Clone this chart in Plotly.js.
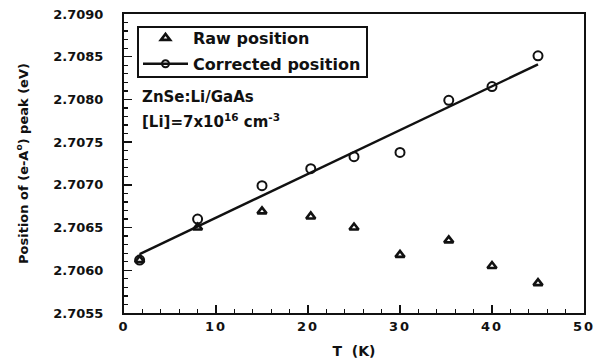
<!DOCTYPE html>
<html>
<head>
<meta charset="utf-8">
<script src="https://cdn.plot.ly/plotly-3.0.1.min.js"></script>
<style>
  html, body { margin: 0; padding: 0; background: #fff; }
  #chart { width: 599px; height: 362px; }
  /* slightly looser tracking for the x tick numbers */
  #chart .xtick text { letter-spacing: 2px; }
</style>
</head>
<body>
<div id="chart"></div>
<script>
// Temperature (K)
var temperature = [1.7, 8, 15, 20.3, 25, 30, 35.3, 40, 45];
// Peak position before correction (eV)
var rawPosition = [2.70612, 2.70650, 2.70669, 2.70663, 2.70650, 2.70618, 2.70635, 2.70605, 2.70585];
// Peak position after correction (eV)
var correctedPosition = [2.70612, 2.70660, 2.70699, 2.70719, 2.70733, 2.70738, 2.70799, 2.70815, 2.70851];
// Linear fit through the corrected positions (end points)
var fitT = [1.7, 45];
var fitE = [2.70619, 2.70841];

var FONT = 'DejaVu Sans, Liberation Sans, Arial, sans-serif';
var INK = '#111';

// plot-area geometry (px) used to place the legend frame in paper coordinates
var PLOT_L = 124, PLOT_T = 14, PLOT_W = 460, PLOT_H = 299;
function px2paperX(px) { return (px - PLOT_L) / PLOT_W; }
function px2paperY(py) { return (PLOT_T + PLOT_H - py) / PLOT_H; }

var traces = [
  {
    x: temperature, y: rawPosition, mode: 'markers', name: 'Raw position',
    legendgroup: 'raw',
    marker: { symbol: 'triangle-up-open', size: 8, color: INK, line: { width: 2.6, color: INK } },
    showlegend: true
  },
  {
    x: fitT, y: fitE, mode: 'lines', name: 'fit',
    line: { color: INK, width: 2.4 }, showlegend: false
  },
  {
    x: temperature, y: correctedPosition, mode: 'markers', name: 'Corrected position',
    marker: { symbol: 'circle-open', size: 9, color: INK, line: { width: 2, color: INK } },
    showlegend: false
  },
  {
    // legend entry: fit line with corrected-position marker
    x: [null], y: [null], mode: 'lines+markers', name: 'Corrected position',
    legendgroup: 'corr',
    line: { color: INK, width: 2.4 },
    marker: { symbol: 'circle-open', size: 7, color: INK, line: { width: 2, color: INK } },
    showlegend: true
  }
];

var layout = {
  width: 599, height: 362,
  margin: { l: PLOT_L, r: 599 - PLOT_L - PLOT_W, t: PLOT_T, b: 362 - PLOT_T - PLOT_H },
  paper_bgcolor: '#fff', plot_bgcolor: '#fff',
  font: { family: FONT, color: INK, size: 13, weight: 'bold' },
  showlegend: true,
  legend: {
    x: px2paperX(138), y: px2paperY(21), xanchor: 'left', yanchor: 'top',
    borderwidth: 0, bgcolor: 'rgba(0,0,0,0)',
    itemwidth: 45, tracegroupgap: 2, traceorder: 'grouped',
    font: { family: FONT, size: 16, color: INK, weight: 'bold' }
  },
  shapes: [
    {
      // legend frame
      type: 'rect', xref: 'paper', yref: 'paper', layer: 'below',
      x0: px2paperX(138), x1: px2paperX(367), y0: px2paperY(77), y1: px2paperY(27),
      line: { color: INK, width: 2 }, fillcolor: '#fff'
    }
  ],
  xaxis: {
    range: [0, 50], dtick: 10, tick0: 0,
    ticks: 'inside', ticklen: 8, tickwidth: 1.5, tickcolor: INK,
    minor: { dtick: 2, ticks: 'inside', ticklen: 4, tickwidth: 1.3, tickcolor: INK },
    showline: true, linecolor: INK, linewidth: 2, mirror: true,
    showgrid: false, zeroline: false,
    tickfont: { family: FONT, size: 13, color: INK, weight: 'bold' },
    title: { text: 'T  (K)', font: { family: FONT, size: 14, color: INK, weight: 'bold' }, standoff: 14 }
  },
  yaxis: {
    range: [2.7055, 2.7090], dtick: 0.0005, tick0: 2.7055, tickformat: '.4f',
    ticks: 'inside', ticklen: 8, tickwidth: 1.5, tickcolor: INK,
    minor: { dtick: 0.0001, ticks: 'inside', ticklen: 4, tickwidth: 1.3, tickcolor: INK },
    showline: true, linecolor: INK, linewidth: 2, mirror: true,
    showgrid: false, zeroline: false,
    ticklabelstandoff: 16,
    tickfont: { family: FONT, size: 13, color: INK, weight: 'bold' },
    title: { text: 'Position of (e-A<sup>o</sup>) peak (eV)', font: { family: FONT, size: 13, color: INK, weight: 'bold' }, standoff: 22 }
  },
  annotations: [
    {
      xref: 'paper', yref: 'paper', x: px2paperX(140), y: px2paperY(97),
      xanchor: 'left', yanchor: 'middle', showarrow: false,
      text: 'ZnSe:Li/GaAs',
      font: { family: FONT, size: 15, color: INK, weight: 'bold' }
    },
    {
      xref: 'paper', yref: 'paper', x: px2paperX(140), y: px2paperY(121),
      xanchor: 'left', yanchor: 'middle', showarrow: false,
      text: '[Li]=7x10<sup>16</sup> cm<sup>-3</sup>',
      font: { family: FONT, size: 15, color: INK, weight: 'bold' }
    }
  ]
};

Plotly.newPlot('chart', traces, layout, { displayModeBar: false, staticPlot: true });
</script>
</body>
</html>
